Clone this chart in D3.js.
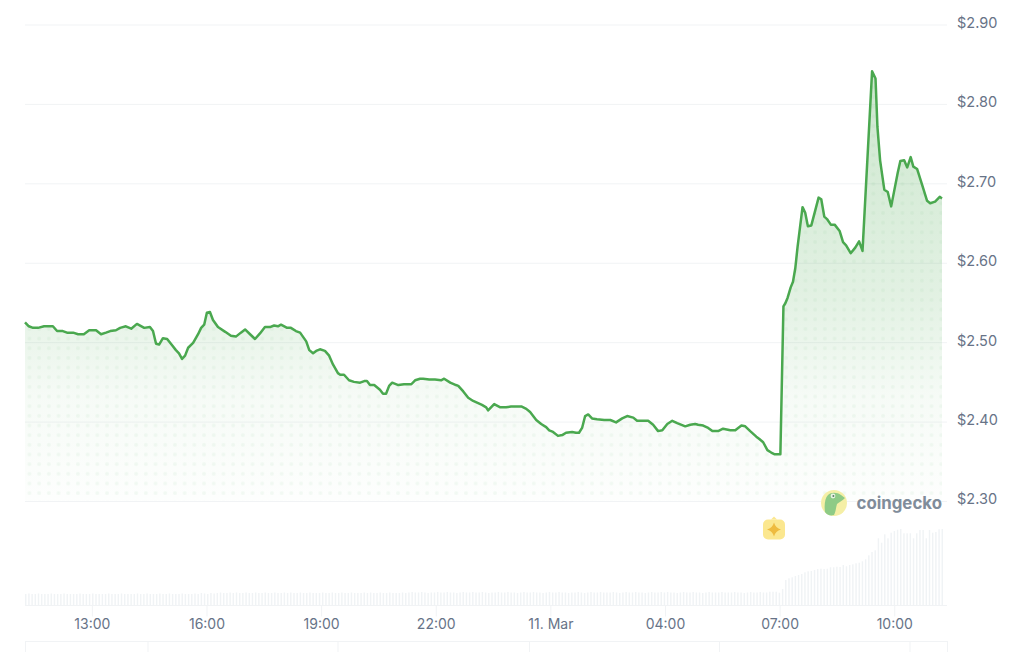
<!DOCTYPE html>
<html>
<head>
<meta charset="utf-8">
<script src="https://cdn.jsdelivr.net/npm/d3@7"></script>
<style>
  html, body { margin: 0; padding: 0; background: #fff; overflow: hidden; }
  svg { display: block; font-family: Inter, "Noto Sans", sans-serif; }
  .axis text { fill: #677387; font-size: 14.5px; font-family: Inter, "Noto Sans", sans-serif; }
</style>
</head>
<body>
<div id="chart"></div>
<script>
// Hours since the start of the window (11:15 on 10 Mar)
const hours = [
  0, .10, .21, .34, .50, .65, .73, .84, .99, 1.10, 1.26, 1.39, 1.54, 1.68, 1.86, 1.99, 2.12, 2.23, 2.38, 2.49,
  2.64, 2.78, 2.93, 3.12, 3.27, 3.35, 3.43, 3.51, 3.61, 3.72, 3.85, 3.95, 4.03, 4.11, 4.19, 4.27, 4.40, 4.53, 4.61, 4.69,
  4.76, 4.84, 4.92, 5.05, 5.24, 5.39, 5.52, 5.65, 5.76, 5.89, 6.02, 6.15, 6.28, 6.41, 6.52, 6.62, 6.70, 6.86, 6.96, 7.09,
  7.20, 7.36, 7.44, 7.54, 7.62, 7.72, 7.85, 7.96, 8.06, 8.19,
  8.25, 8.35, 8.48, 8.61, 8.77, 8.88, 8.95, 9.03, 9.14, 9.29, 9.37, 9.45, 9.53, 9.61, 9.77, 9.92, 10.11, 10.21, 10.34, 10.42,
  10.58, 10.73, 10.89, 10.97, 11.13, 11.28, 11.34, 11.47, 11.60, 11.73, 11.96, 12.07, 12.12, 12.28, 12.44, 12.59, 12.72, 12.99, 13.12, 13.22,
  13.38, 13.51, 13.64, 13.72, 13.82, 13.95, 14.06, 14.16, 14.32, 14.42, 14.50, 14.58, 14.66, 14.74, 14.84, 14.97, 15.16, 15.32, 15.47,
  15.63, 15.76, 15.92, 16.02, 16.18, 16.31, 16.44, 16.57, 16.68, 16.81, 16.94, 17.07, 17.28, 17.41, 17.54, 17.62, 17.75, 17.88, 17.99, 18.14,
  18.27, 18.46, 18.59, 18.75, 18.85, 18.98, 19.14, 19.22, 19.32, 19.43, 19.53, 19.61, 19.77,
  19.85, 19.90, 19.96, 20.04, 20.10, 20.16, 20.22, 20.35, 20.42, 20.49, 20.58, 20.77, 20.84, 20.92, 20.99, 21.09, 21.19, 21.32, 21.41, 21.49,
  21.61, 21.73, 21.83, 21.92, 22.17, 22.26, 22.31, 22.38, 22.49, 22.58, 22.67, 22.84, 22.91, 23.01, 23.09, 23.18, 23.25, 23.35, 23.48, 23.61,
  23.69, 23.82, 23.94, 24
];

const prices = [
  2.525, 2.520, 2.518, 2.518, 2.520, 2.520, 2.520, 2.514, 2.514, 2.512, 2.512, 2.510, 2.510, 2.515, 2.515, 2.510, 2.512, 2.514, 2.515, 2.518,
  2.520, 2.517, 2.523, 2.518, 2.519, 2.514, 2.498, 2.497, 2.505, 2.504, 2.496, 2.490, 2.486, 2.479, 2.483, 2.493, 2.499, 2.510, 2.518, 2.522,
  2.537, 2.538, 2.528, 2.519, 2.513, 2.508, 2.507, 2.512, 2.516, 2.510, 2.504, 2.511, 2.519, 2.519, 2.521, 2.520, 2.522, 2.518, 2.518, 2.514,
  2.512, 2.501, 2.490, 2.486, 2.489, 2.491, 2.489, 2.483, 2.472, 2.461,
  2.459, 2.459, 2.452, 2.450, 2.449, 2.451, 2.451, 2.446, 2.446, 2.440, 2.435, 2.435, 2.445, 2.449, 2.446, 2.447, 2.447, 2.452, 2.454, 2.454,
  2.453, 2.453, 2.452, 2.454, 2.449, 2.446, 2.445, 2.438, 2.430, 2.426, 2.421, 2.418, 2.414, 2.422, 2.418, 2.418, 2.419, 2.419, 2.416, 2.412,
  2.402, 2.397, 2.393, 2.389, 2.387, 2.382, 2.383, 2.386, 2.387, 2.386, 2.386, 2.392, 2.407, 2.409, 2.404, 2.403, 2.402, 2.402, 2.399,
  2.404, 2.407, 2.405, 2.401, 2.401, 2.401, 2.396, 2.388, 2.389, 2.397, 2.401, 2.398, 2.394, 2.396, 2.397, 2.396, 2.395, 2.392, 2.388, 2.388,
  2.391, 2.389, 2.389, 2.395, 2.394, 2.388, 2.381, 2.378, 2.374, 2.364, 2.361, 2.359, 2.359,
  2.545, 2.549, 2.556, 2.569, 2.576, 2.593, 2.620, 2.670, 2.663, 2.646, 2.647, 2.682, 2.680, 2.658, 2.655, 2.648, 2.648, 2.640, 2.626, 2.622,
  2.612, 2.619, 2.627, 2.615, 2.841, 2.832, 2.771, 2.729, 2.692, 2.689, 2.671, 2.713, 2.728, 2.729, 2.720, 2.733, 2.721, 2.718, 2.698, 2.678,
  2.675, 2.677, 2.683, 2.681
];

// Volume per 5 minute bar, millions (no scale is shown in the chart)
const volumes = [
  11, 11.5, 11, 11, 11.5, 11, 11, 11, 11.5, 11, 11, 11, 11.5, 11, 11, 11, 11, 11.5, 11, 11,
  11, 11.5, 11, 11, 11, 11, 11.5, 11, 11, 11, 11.5, 11, 11, 11, 11, 11.5, 11, 11, 11.5, 11,
  11, 11, 11.5, 11, 11, 11.5, 11, 11, 11, 11.5, 11, 11, 11, 11.5, 11, 12, 11.5, 11, 12, 11.5,
  12, 12.5, 12, 12, 12.5, 12, 12.5, 12, 12, 12.5, 12, 12, 12.5, 12, 12, 12.5, 12, 12, 12.5, 12,
  12, 12.5, 12, 12.5, 12, 12, 12.5, 12, 12, 12.5, 12, 12, 12, 12.5, 12, 12, 12.5, 12, 12, 12.5,
  12, 12, 12.5, 12, 12, 12, 12.5, 12, 12.5, 12, 12, 12.5, 12, 12, 12.5, 12, 12, 12, 12.5, 12,
  12.5, 13, 12.5, 12.5, 13, 12.5, 12, 12.5, 12.5, 13, 12.5, 12.5, 13, 12.5, 12.5, 12, 12.5, 13, 12.5, 12.5,
  13, 12.5, 12.5, 13, 12.5, 12, 12.5, 12.5, 13, 12.5, 12.5, 13, 12.5, 12.5, 12, 12.5, 13, 12.5, 12.5, 13,
  12.5, 12.5, 12, 12.5, 13, 12.5, 12.5, 13, 12.5, 12.5, 12, 12.5, 12.5, 13, 12.5, 12, 12.5, 13, 12.5, 12.5,
  13, 12.5, 12.5, 12.5, 13, 12.5, 12, 12.5, 13, 12.5, 12.5, 13, 12.5, 12.5, 12, 12.5, 13, 12.5, 12.5, 13,
  12.5, 13, 12.5, 12.5, 12, 12.5, 13, 12.5, 12.5, 13, 12.5, 12.5, 12, 12.5, 13, 12.5, 12.5, 12.5, 13, 12.5,
  12.5, 12.5, 13, 12.5, 12.5, 12, 12.5, 13, 12.5, 12.5, 13, 12.5, 12.5,
  13.3, 13.3, 13.3, 12.3, 16, 25, 26.7, 27.7, 29, 30, 31, 32.7, 33.7, 34, 35, 36, 36.3, 36, 36.3, 37.7,
  37.7, 38.3, 38, 40, 38.7, 40, 40.7, 41.7, 42.3, 43.7, 45.7, 49.7, 53, 54.7, 66.7, 62.3, 70.7, 66.7, 72.3, 74,
  75.3, 76, 71.7, 71.7, 71.7, 66.7, 71.7, 75, 75, 66.7, 75, 72.3, 73, 75.7, 76
];

const priceTicks = [2.3, 2.4, 2.5, 2.6, 2.7, 2.8, 2.9];
const timeTicks = [1.75, 4.75, 7.75, 10.75, 13.75, 16.75, 19.75, 22.75];
const timeLabels = ["13:00", "16:00", "19:00", "22:00", "11. Mar", "04:00", "07:00", "10:00"];

// Dimensions
const width = 1024;
const height = 652;
const plot = { left: 25, right: 942, gridRight: 947, top: 24.5, bottom: 501, volBase: 605 };

const green = "#4aa84f";
const lineGrey = "#f1f3f5";

// Scales
const xScale = d3.scaleLinear().domain([0, 24]).range([plot.left, plot.right]);
const yScale = d3.scaleLinear().domain([2.3, 2.9]).range([plot.bottom, plot.top]);
const volX = d3.scaleBand().domain(d3.range(volumes.length)).range([plot.left, plot.right + 1]).paddingInner(0.55);
const volY = d3.scaleLinear().domain([0, 80]).range([plot.volBase, plot.volBase - 80]);

const series = hours.map((h, i) => ({ h, p: prices[i] }));

const svg = d3
  .select("#chart")
  .append("svg")
  .attr("width", width)
  .attr("height", height);

const defs = svg.append("defs");

// Fill fades out towards the bottom of the price panel
const grad = defs
  .append("linearGradient")
  .attr("id", "areaFill")
  .attr("gradientUnits", "userSpaceOnUse")
  .attr("x1", 0)
  .attr("x2", 0)
  .attr("y1", yScale(2.85))
  .attr("y2", yScale(2.3));
[[0, 0.28], [0.53, 0.16], [0.76, 0.05], [1, 0.01]].forEach((s) => {
  grad.append("stop").attr("offset", s[0]).attr("stop-color", green).attr("stop-opacity", s[1]);
});

const dots = defs
  .append("pattern")
  .attr("id", "areaDots")
  .attr("patternUnits", "userSpaceOnUse")
  .attr("width", 9.7)
  .attr("height", 9.66)
  .attr("patternTransform", "translate(24.6,5.3)");
dots.append("circle").attr("cx", 4.85).attr("cy", 4.83).attr("r", 2).attr("fill", green).attr("fill-opacity", 0.06);

// Y axis and grid lines
const yAxis = d3
  .axisRight(yScale)
  .tickValues(priceTicks)
  .tickSize(plot.gridRight - plot.left)
  .tickPadding(10)
  .tickFormat((d) => "$" + d.toFixed(2));

const yG = svg
  .append("g")
  .attr("class", "axis")
  .attr("transform", `translate(${plot.left},0)`)
  .call(yAxis);
yG.select(".domain").remove();
yG.selectAll("line").attr("stroke", lineGrey);
yG.selectAll("text").attr("dy", "0.2em");

// Volume bars
svg
  .append("g")
  .selectAll("rect")
  .data(volumes)
  .enter()
  .append("rect")
  .attr("x", (d, i) => volX(i))
  .attr("width", volX.bandwidth())
  .attr("y", (d) => volY(d))
  .attr("height", (d) => volY(0) - volY(d))
  .attr("fill", "#f0f3f5");

// Area and line
const area = d3
  .area()
  .x((d) => xScale(d.h))
  .y0(yScale(2.3))
  .y1((d) => yScale(d.p));

const line = d3
  .line()
  .x((d) => xScale(d.h))
  .y((d) => yScale(d.p));

svg.append("path").datum(series).attr("d", area).attr("fill", "url(#areaFill)");
svg.append("path").datum(series).attr("d", area).attr("fill", "url(#areaDots)");
svg
  .append("path")
  .datum(series)
  .attr("d", line)
  .attr("fill", "none")
  .attr("stroke", green)
  .attr("stroke-width", 2.5)
  .attr("stroke-linejoin", "round");

// X axis
const xAxis = d3
  .axisBottom(xScale)
  .tickValues(timeTicks)
  .tickSize(11)
  .tickPadding(3)
  .tickFormat((d, i) => timeLabels[i]);

const xG = svg
  .append("g")
  .attr("class", "axis")
  .attr("transform", `translate(0,${plot.volBase + 0.5})`)
  .call(xAxis);
xG.select(".domain").remove();
xG.selectAll("line").attr("stroke", lineGrey).attr("stroke-width", 1);
xG.selectAll("text").style("font-size", "14px");

svg
  .append("line")
  .attr("x1", plot.left)
  .attr("x2", plot.gridRight)
  .attr("y1", plot.volBase + 0.5)
  .attr("y2", plot.volBase + 0.5)
  .attr("stroke", lineGrey);

// Table under the chart, only its top edge is in the frame
const tableEdges = [25.5, 148, 338, 529.5, 719.5, 910, 947.5];
svg
  .append("line")
  .attr("x1", 25)
  .attr("x2", 948)
  .attr("y1", 641.5)
  .attr("y2", 641.5)
  .attr("stroke", lineGrey);
svg
  .append("g")
  .selectAll("line")
  .data(tableEdges)
  .enter()
  .append("line")
  .attr("x1", (d) => d)
  .attr("x2", (d) => d)
  .attr("y1", 641.5)
  .attr("y2", height)
  .attr("stroke", lineGrey);

// Watermark
const logo = svg.append("g").attr("transform", "translate(834,503)");
logo.append("circle").attr("r", 13).attr("fill", "#f5efa6");
logo
  .append("path")
  .attr("d", "M-9,9 C-10,2 -9,-5 -6,-8 C-3,-11 3,-11 7,-8 L11,-5 C8,-2 5,-1 3,1 C2,4 2,8 0,12 C-4,13 -7,12 -9,9 Z")
  .attr("fill", "#8ecb86");
logo.append("circle").attr("cx", -1).attr("cy", -7).attr("r", 2.4).attr("fill", "#e9f3e2");
logo.append("circle").attr("cx", -0.6).attr("cy", -7).attr("r", 1).attr("fill", "#5d7a68");

svg
  .append("text")
  .attr("x", 856.5)
  .attr("y", 509)
  .attr("font-size", 17)
  .attr("font-weight", 700)
  .attr("fill", "#808c9a")
  .attr("textLength", 85.5)
  .attr("lengthAdjust", "spacingAndGlyphs")
  .text("coingecko");

// Event badge above 07:00
const badge = svg.append("g").attr("transform", "translate(774,529.5)");
badge.append("rect").attr("x", -11).attr("y", -10).attr("width", 22).attr("height", 20).attr("rx", 5).attr("fill", "#fbe78f");
badge.append("path").attr("d", "M-3,-10 L0,-13 L3,-10 Z").attr("fill", "#fbe78f");
badge.append("path").attr("d", "M0,-7 Q1.5,-1.5 7,0 Q1.5,1.5 0,7 Q-1.5,1.5 -7,0 Q-1.5,-1.5 0,-7 Z").attr("fill", "#eebb3f");
</script>
</body>
</html>
